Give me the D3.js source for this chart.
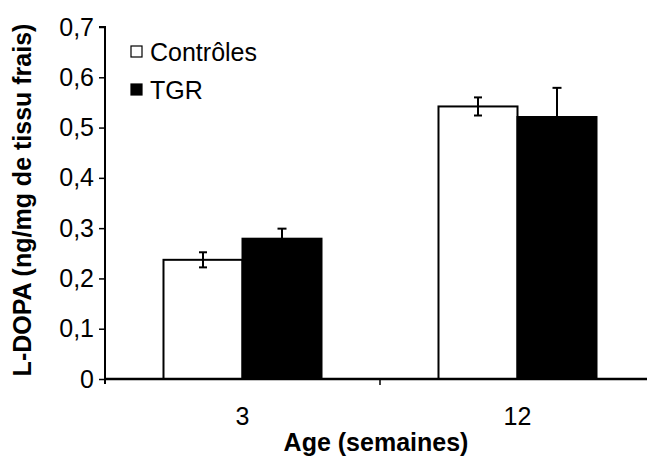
<!DOCTYPE html>
<html>
<head>
<meta charset="utf-8">
<script src="https://cdn.jsdelivr.net/npm/d3@7"></script>
<style>
  html, body { margin: 0; padding: 0; background: #fff; }
  svg { display: block; font-family: "Liberation Sans", Arial, sans-serif; }
</style>
</head>
<body>
<svg id="chart" width="647" height="459"></svg>
<script>
const categories = ["3", "12"];
const seriesNames = ["Contrôles", "TGR"];
const controles = [0.237, 0.542];
const tgr = [0.279, 0.521];
const controlesErr = [0.015, 0.018];
const tgrErr = [0.020, 0.058];
const yTicks = [0, 0.1, 0.2, 0.3, 0.4, 0.5, 0.6, 0.7];
const yTickLabels = ["0", "0,1", "0,2", "0,3", "0,4", "0,5", "0,6", "0,7"];
const xTitle = "Age (semaines)";
const yTitle = "L-DOPA (ng/mg de tissu frais)";

const colors = { "Contrôles": "#ffffff", "TGR": "#000000" };

const rows = [];
categories.forEach((c, i) => {
  rows.push({ cat: c, s: "Contrôles", v: controles[i], e: controlesErr[i] });
  rows.push({ cat: c, s: "TGR", v: tgr[i], e: tgrErr[i] });
});

const svg = d3.select("#chart");
const pLeft = 105, pRight = 655, pTop = 27, pBottom = 379;
const fontMain = 25;

const y = d3.scaleLinear().domain([0, 0.7]).range([pBottom, pTop]);
const x0 = d3.scaleBand().domain(categories).range([pLeft, pRight]).padding(0);
const bw = x0.bandwidth();
const barW = bw * 0.2873;
const x1 = d3.scaleBand().domain(seriesNames)
  .range([bw / 2 - barW, bw / 2 + barW]).padding(0);

// bars
svg.append("g").selectAll("rect").data(rows).join("rect")
  .attr("x", d => x0(d.cat) + x1(d.s))
  .attr("y", d => y(d.v))
  .attr("width", x1.bandwidth())
  .attr("height", d => y(0) - y(d.v))
  .attr("fill", d => colors[d.s])
  .attr("stroke", "#000")
  .attr("stroke-width", 2);

// error bars
const eg = svg.append("g").attr("stroke", "#000").attr("stroke-width", 2);
rows.forEach(d => {
  const cx = x0(d.cat) + x1(d.s) + x1.bandwidth() / 2;
  const capW = d.s === "TGR" ? 4.5 : 4;
  eg.append("line").attr("x1", cx).attr("x2", cx)
    .attr("y1", y(d.v + d.e)).attr("y2", y(d.v - d.e));
  eg.append("line").attr("x1", cx - capW).attr("x2", cx + capW)
    .attr("y1", y(d.v + d.e)).attr("y2", y(d.v + d.e));
  eg.append("line").attr("x1", cx - capW).attr("x2", cx + capW)
    .attr("y1", y(d.v - d.e)).attr("y2", y(d.v - d.e));
});

// y axis
const yAxis = d3.axisLeft(y).tickValues(yTicks)
  .tickFormat((d, i) => yTickLabels[i]).tickSize(6).tickPadding(5);
const gy = svg.append("g").attr("transform", `translate(${pLeft},0)`).call(yAxis);
gy.select(".domain").attr("stroke-width", 2).attr("d", `M-6,${pTop}H0V${pBottom + 5}`);
gy.selectAll(".tick line").attr("stroke-width", 1.5);
gy.selectAll(".tick text").attr("font-size", fontMain).attr("fill", "#000")
  .attr("font-family", "Liberation Sans, Arial, sans-serif");

// x axis
const xAxis = d3.axisBottom(x0).tickSize(0).tickPadding(28);
const gx = svg.append("g").attr("transform", `translate(0,${pBottom})`).call(xAxis);
gx.select(".domain").attr("stroke-width", 2.5).attr("d", `M${pLeft},0H${pRight}`);
gx.selectAll(".tick text").attr("font-size", fontMain).attr("fill", "#000")
  .attr("font-family", "Liberation Sans, Arial, sans-serif");
gx.selectAll(".bound").data(categories.slice(1)).join("line")
  .attr("class", "bound")
  .attr("x1", d => x0(d)).attr("x2", d => x0(d))
  .attr("y1", 0).attr("y2", 6)
  .attr("stroke", "#000").attr("stroke-width", 1.5);

// axis titles
svg.append("text")
  .attr("x", (pLeft + 647) / 2).attr("y", 451)
  .attr("text-anchor", "middle")
  .attr("font-size", fontMain).attr("font-weight", "bold")
  .text(xTitle);
svg.append("text")
  .attr("transform", `translate(31,200) rotate(-90)`)
  .attr("text-anchor", "middle")
  .attr("font-size", fontMain).attr("font-weight", "bold")
  .text(yTitle);

// legend
const lg = svg.append("g");
seriesNames.forEach((s, i) => {
  const ly = 52 + i * 38;
  lg.append("rect").attr("x", 131).attr("y", ly - 6).attr("width", 11).attr("height", 11)
    .attr("fill", colors[s]).attr("stroke", "#000").attr("stroke-width", 1.2);
  lg.append("text").attr("x", 150).attr("y", ly + 9)
    .attr("font-size", fontMain).text(s);
});
</script>
</body>
</html>
